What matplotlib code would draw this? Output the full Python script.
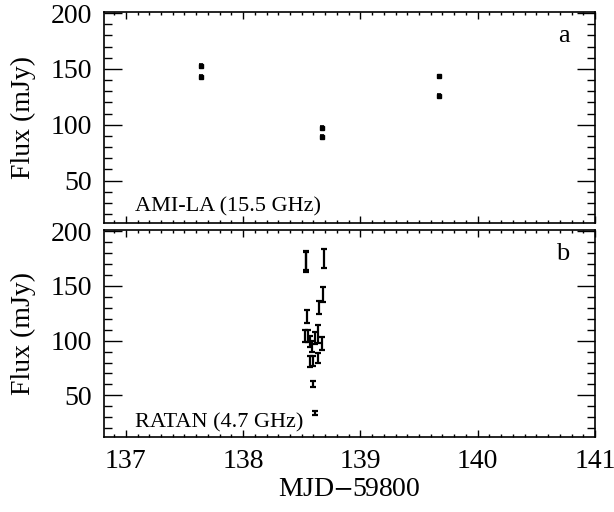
import matplotlib
matplotlib.use('Agg')
import matplotlib.pyplot as plt
from matplotlib.ticker import MultipleLocator

plt.rcParams['font.family'] = ['Liberation Serif', 'DejaVu Serif']
plt.rcParams['mathtext.fontset'] = 'stix'

# AMI-LA 15.5 GHz (MJD - 59800)
ami_t = [137.64, 137.64, 138.672, 138.675, 139.67, 139.668]
ami_f = [152.5, 143.0, 97.5, 89.0, 143.5, 126.0]
ami_e = [1.5, 1.5, 1.5, 1.5, 1.2, 1.2]

# RATAN 4.7 GHz
rat_t = [138.533, 138.538, 138.686, 138.678, 138.65, 138.544, 138.524, 138.55,
         138.573, 138.587, 138.635, 138.615, 138.672, 138.567, 138.60, 138.635,
         138.596, 138.61]
rat_f = [172.0, 173.0, 175.0, 141.8, 130.0, 122.0, 104.0, 104.0,
         99.0, 95.0, 106.0, 102.0, 97.0, 80.5, 81.0, 84.5,
         60.5, 34.0]
rat_e = [9.0, 8.5, 9.0, 7.0, 6.0, 6.0, 5.5, 5.5,
         5.0, 5.0, 8.0, 5.5, 6.0, 5.0, 4.5, 4.5,
         3.0, 1.5]

fig = plt.figure(figsize=(6.14, 5.12), dpi=100)
ax1 = fig.add_axes([0.1686, 0.5645, 0.8004, 0.4121])
ax2 = fig.add_axes([0.1686, 0.1465, 0.8004, 0.4043])

ax1.errorbar(ami_t, ami_f, yerr=ami_e, fmt='s', color='black', ms=2.5,
             capsize=1.5, elinewidth=1.2, capthick=1.2)
ax2.errorbar(rat_t, rat_f, yerr=rat_e, fmt='none', ecolor='black',
             capsize=2, elinewidth=1.6, capthick=1.6)

for ax in (ax1, ax2):
    ax.set_xlim(136.81, 141.0)
    ax.set_ylim(12, 201)
    ax.xaxis.set_major_locator(MultipleLocator(1))
    ax.xaxis.set_minor_locator(MultipleLocator(0.1))
    ax.yaxis.set_major_locator(MultipleLocator(50))
    ax.yaxis.set_minor_locator(MultipleLocator(10))
    ax.tick_params(which='both', direction='in', top=True, right=True,
                   labelsize=20, color='black', width=1)
    ax.tick_params(axis='y', which='major', length=13, pad=8)
    ax.tick_params(axis='y', which='minor', length=6)
    ax.tick_params(axis='x', which='major', length=5, pad=9)
    ax.tick_params(axis='x', which='minor', length=2.5)
    ax.set_ylabel('Flux (mJy)', fontsize=20)
    for s in ax.spines.values():
        s.set_linewidth(1.2)
    ax.set_yticks([50, 100, 150, 200])
    ax.yaxis.set_label_coords(-0.138, 0.5)

ax1.tick_params(axis='x', labelbottom=False)
ax2.set_xlabel('MJD$-$59800', fontsize=20, labelpad=2)

ax1.text(0.064, 0.03, 'AMI-LA (15.5 GHz)', transform=ax1.transAxes,
         fontsize=16, ha='left', va='bottom')
ax1.text(0.948, 0.885, 'a', transform=ax1.transAxes, fontsize=19,
         ha='right', va='center')
ax2.text(0.064, 0.02, 'RATAN (4.7 GHz)', transform=ax2.transAxes,
         fontsize=16, ha='left', va='bottom')
ax2.text(0.948, 0.885, 'b', transform=ax2.transAxes, fontsize=19,
         ha='right', va='center')

fig.savefig('out.png', dpi=100)
